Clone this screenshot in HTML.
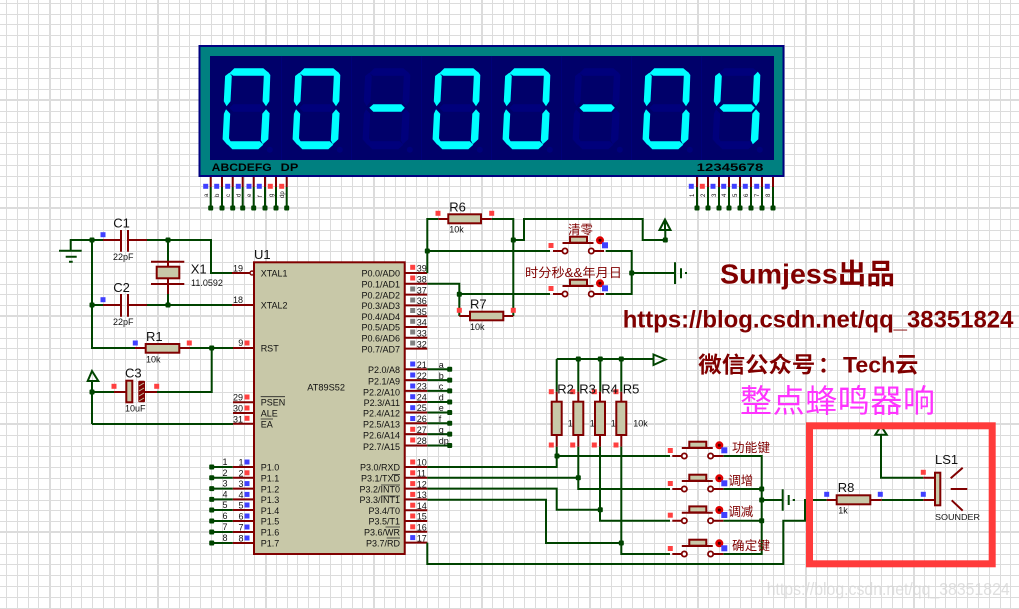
<!DOCTYPE html>
<html><head><meta charset="utf-8"><style>
html,body{margin:0;padding:0;background:#fff}
svg{display:block}
text{font-family:"Liberation Sans","Noto Sans CJK SC",sans-serif;fill:#111}
.w{fill:none;stroke:#004400;stroke-width:2}
.p{fill:none;stroke:#800000;stroke-width:2}
.b{fill:#c8c8a8;stroke:#800000;stroke-width:2}
.t{font-size:9px}
.l{font-size:13px}
.s{font-size:9px}
.c{font-size:12.5px;fill:#800000}
.o{stroke:#222;stroke-width:.8}
</style></head><body>
<svg width="1019" height="609" viewBox="0 0 1019 609" xmlns="http://www.w3.org/2000/svg">
<defs>
<pattern id="grid" width="108" height="108" patternUnits="userSpaceOnUse">
<path d="M6 0h1v108h-1zM17 0h1v108h-1zM28 0h1v108h-1zM38 0h1v108h-1zM49 0h2v108h-2zM60 0h1v108h-1zM71 0h1v108h-1zM81 0h1v108h-1zM92 0h1v108h-1zM103 0h1v108h-1zM0 3h108v1h-108zM0 14h108v1h-108zM0 24h108v1h-108zM0 35h108v1h-108zM0 46h108v1h-108zM0 57h108v1h-108zM0 68h108v1h-108zM0 78h108v1h-108zM0 89h108v1h-108zM0 99h108v2h-108z" fill="#dcdcdc"/>
</pattern>
<polygon id="sa" points="6,5 11,0 40,0 46,5 41,7.5 10,7.5"/>
<polygon id="sb" points="40.5,7.5 44.5,3.5 47,6.7 46,33 42.7,38 39.3,33"/>
<polygon id="sc" points="42.7,41 46.3,45 45,71 39.5,76 37.5,72 39,45.5"/>
<polygon id="sd" points="6.5,73 36.5,73 40,76.5 35,81 9,81 4,76"/>
<polygon id="se" points="2.7,41 6.9,45.5 5.7,70 7.5,73.5 4,76.5 -0.7,71 0.6,45.5"/>
<polygon id="sf" points="6,4.5 8.5,7.7 7.2,33 3.3,38 0.5,33 1.8,7.7"/>
<polygon id="sg" points="10,36 38,36 41.5,39.5 38,43.5 10,43.5 6,39.5"/>
<g id="u" fill="#00007c">
<use href="#sa"/><use href="#sb"/><use href="#sc"/><use href="#sd"/><use href="#se"/><use href="#sf"/><use href="#sg"/><circle cx="46.5" cy="81.5" r="3"/>
</g>
<g id="zero" fill="#00ffff"><use href="#sa"/><use href="#sb"/><use href="#sc"/><use href="#sd"/><use href="#se"/><use href="#sf"/></g>
<g id="four" fill="#00ffff"><use href="#sb"/><use href="#sc"/><use href="#sf"/><use href="#sg"/></g>
<rect id="B" x="-2.5" y="-2.5" width="5" height="5" fill="#4040ff"/>
<rect id="R" x="-2.5" y="-2.5" width="5" height="5" fill="#ff4040"/>
<rect id="G" x="-2.5" y="-2.5" width="5" height="5" fill="#808080"/>
<rect id="j" x="-2.5" y="-2.5" width="5" height="5" rx="1" fill="#004400"/>
<g id="btn">
<rect class="b" x="5" y="-14.3" width="17" height="6"/>
<path class="p" d="M-2.5 -8H28.5"/>
<circle cx="0" cy="0" r="2.6" fill="#fff" stroke="#800000" stroke-width="1.8"/>
<circle cx="26.3" cy="0" r="2.6" fill="#fff" stroke="#800000" stroke-width="1.8"/>
<path class="p" d="M-12 0H-2.6M29 0H39"/>
<circle cx="35" cy="-10.7" r="4" fill="#e00000"/><circle cx="35" cy="-10.7" r="1.5" fill="#400000"/>
<rect x="37" y="-8.7" width="6" height="6" fill="#4040ff"/>
<use href="#R" x="-14" y="-5.5"/>
</g>
</defs>
<rect width="1019" height="609" fill="#fff"/>
<rect width="1019" height="609" fill="url(#grid)"/>

<!-- display -->
<rect x="199.5" y="46" width="584" height="130" fill="#008080" stroke="#000080" stroke-width="2"/>
<rect x="210" y="56" width="564" height="104" fill="#00006a"/>
<path d="M281.5 56V160M351.5 56V160M421.5 56V160M491.5 56V160M561.5 56V160M631.5 56V160M701.5 56V160" stroke="#000078" stroke-width="1"/>
<g transform="translate(223.3,68.3)"><use href="#u"/><use href="#zero"/></g>
<g transform="translate(293.3,68.3)"><use href="#u"/><use href="#zero"/></g>
<g transform="translate(363.3,68.3)"><use href="#u"/><use href="#sg" fill="#00ffff"/></g>
<g transform="translate(433.3,68.3)"><use href="#u"/><use href="#zero"/></g>
<g transform="translate(503.3,68.3)"><use href="#u"/><use href="#zero"/></g>
<g transform="translate(573.3,68.3)"><use href="#u"/><use href="#sg" fill="#00ffff"/></g>
<g transform="translate(643.3,68.3)"><use href="#u"/><use href="#zero"/></g>
<g transform="translate(713.3,68.3)"><use href="#u"/><use href="#four"/></g>
<text x="211.7" y="171" font-size="11" font-weight="bold" textLength="60" lengthAdjust="spacingAndGlyphs" style="fill:#000">ABCDEFG</text>
<text x="280.7" y="171" font-size="11" font-weight="bold" textLength="17.6" lengthAdjust="spacingAndGlyphs" style="fill:#000">DP</text>
<text x="696.7" y="171" font-size="11" font-weight="bold" textLength="66.6" lengthAdjust="spacingAndGlyphs" style="fill:#000">12345678</text>

<!-- display pins -->
<path class="p" d="M210.7 177V187M222 177V187M232.7 177V187M242.7 177V187M253.7 177V187M265 177V187M276 177V187M286.7 177V187M697 177V187M708 177V187M719 177V187M729 177V187M740 177V187M751 177V187M762 177V187M773 177V187"/>
<path class="w" d="M210.7 187V208M222 187V208M232.7 187V208M242.7 187V208M253.7 187V208M265 187V208M276 187V208M286.7 187V208M697 187V208M708 187V208M719 187V208M729 187V208M740 187V208M751 187V208M762 187V208M773 187V208"/>
<g><use href="#j" x="210.7" y="208"/><use href="#j" x="222" y="208"/><use href="#j" x="232.7" y="208"/><use href="#j" x="242.7" y="208"/><use href="#j" x="253.7" y="208"/><use href="#j" x="265" y="208"/><use href="#j" x="276" y="208"/><use href="#j" x="286.7" y="208"/><use href="#j" x="697" y="208"/><use href="#j" x="708" y="208"/><use href="#j" x="719" y="208"/><use href="#j" x="729" y="208"/><use href="#j" x="740" y="208"/><use href="#j" x="751" y="208"/><use href="#j" x="762" y="208"/><use href="#j" x="773" y="208"/></g>
<g><use href="#B" x="205.7" y="186.3"/><use href="#B" x="216.7" y="186.3"/><use href="#B" x="227.7" y="186.3"/><use href="#B" x="238.3" y="186.3"/><use href="#B" x="249" y="186.3"/><use href="#B" x="259.3" y="186.3"/><use href="#R" x="270.3" y="186.3"/><use href="#R" x="281.7" y="186.3"/><use href="#B" x="691.3" y="186.3"/><use href="#R" x="702.3" y="186.3"/><use href="#B" x="713" y="186.3"/><use href="#B" x="723.7" y="186.3"/><use href="#B" x="734.3" y="186.3"/><use href="#B" x="745.3" y="186.3"/><use href="#B" x="756.7" y="186.3"/><use href="#B" x="767.3" y="186.3"/></g>
<g font-size="6">
<text transform="translate(208,197) rotate(-90)">a</text><text transform="translate(219,197) rotate(-90)">b</text><text transform="translate(230,197) rotate(-90)">c</text><text transform="translate(240.5,197) rotate(-90)">d</text><text transform="translate(251,197) rotate(-90)">e</text><text transform="translate(262,197) rotate(-90)">f</text><text transform="translate(273,197) rotate(-90)">g</text><text transform="translate(284,198) rotate(-90)">dp</text>
<text transform="translate(694,197) rotate(-90)">1</text><text transform="translate(705,197) rotate(-90)">2</text><text transform="translate(716,197) rotate(-90)">3</text><text transform="translate(726,197) rotate(-90)">4</text><text transform="translate(737,197) rotate(-90)">5</text><text transform="translate(748,197) rotate(-90)">6</text><text transform="translate(759,197) rotate(-90)">7</text><text transform="translate(770,197) rotate(-90)">8</text>
</g>

<!-- left wires -->
<path class="w" d="M59 250.7H81.7M65.7 256.7H76.7M69 261.7H72.7M70.7 251V240H103M147 240H211V273H232M168 240V262M168 284V305M92 240V348H135M92 305H103M147 305H232M190 348H233M211.7 348V392H157M92 392H114M92 424V381M92 424H233"/>
<polygon class="w" points="92,371 87.7,381 98.3,381"/>
<g><use href="#j" x="92" y="240"/><use href="#j" x="168" y="240"/><use href="#j" x="92" y="305"/><use href="#j" x="168" y="305"/><use href="#j" x="211.7" y="348"/><use href="#j" x="92" y="392"/></g>
<path class="p" d="M103 240H121M121 230V251.7M128 230V251.7M128 240H147M103 305H121M121 294V316.7M128 294V316.7M128 305H147M151 261.7H184.3M168 261.7V266.7M168 278.3V294M151 284H184.3M135 348H146M179 348H190M114 392H126M145 392H157"/>
<rect class="b" x="156.7" y="266.7" width="22.6" height="11.6"/>
<rect class="b" x="145.7" y="344" width="33.6" height="8.7"/>
<rect class="b" x="126.3" y="380.7" width="6" height="21.6"/>
<rect x="138.3" y="380.7" width="6.7" height="21.6" fill="#800000" rx="1"/>
<path d="M139 386l5-3M139 391l5-3M139 396l5-3M139 401l5-3" stroke="#c8c8a8" stroke-width=".8"/>
<g><use href="#B" x="103" y="234.7"/><use href="#B" x="103" y="299.7"/><use href="#B" x="135.3" y="343"/><use href="#R" x="189.3" y="343"/><use href="#R" x="114" y="386.3"/><use href="#R" x="156.7" y="386.3"/></g>
<text class="l" x="113.3" y="227.7">C1</text><text class="s" x="113" y="260">22pF</text>
<text class="l" x="113.3" y="292">C2</text><text class="s" x="113" y="325">22pF</text>
<text class="l" x="190.7" y="273.3">X1</text><text class="s" x="191" y="286">11.0592</text>
<text class="l" x="146" y="341">R1</text><text class="s" x="146" y="362.7">10k</text>
<text class="l" x="125" y="377.7">C3</text><text class="s" x="125" y="411.7">10uF</text>

<!-- U1 -->
<rect x="254" y="262.3" width="150.7" height="291.7" fill="#c8c8a8" stroke="#800000" stroke-width="2"/>
<text class="l" x="254" y="259">U1</text>
<path class="p" d="M232 273H250M232 305H254M233 348H254M233 402.3H254M233 413H254M233 423.7H254M232.7 467H254M232.7 477.8H254M232.7 488.6H254M232.7 499.4H254M232.7 510H254M232.7 521H254M232.7 532H254M232.7 543H254M404.7 273H427.3M404.7 283.8H427.3M404.7 294.6H427.3M404.7 305.4H427.3M404.7 316.2H427.3M404.7 327H427.3M404.7 337.8H427.3M404.7 348.6H427.3M404.7 369.3H427.3M404.7 380.1H427.3M404.7 390.9H427.3M404.7 402H427.3M404.7 412.5H427.3M404.7 423.3H427.3M404.7 434.1H427.3M404.7 445.5H427.3M404.7 467H427.3M404.7 477.8H427.3M404.7 488.6H427.3M404.7 499.4H427.3M404.7 510.2H427.3M404.7 521H427.3M404.7 531.8H427.3M404.7 542.6H427.3"/>
<circle cx="252" cy="273" r="2" fill="none" stroke="#800000" stroke-width="1.4"/>
<path class="w" d="M211.7 467H232.7M211.7 477.8H232.7M211.7 488.6H232.7M211.7 499.4H232.7M211.7 510H232.7M211.7 521H232.7M211.7 532H232.7M211.7 543H232.7M427.3 369.3H449.7M427.3 380.1H449.7M427.3 390.9H449.7M427.3 402H449.7M427.3 412.5H449.7M427.3 423.3H449.7M427.3 434.1H449.7M427.3 445.5H449.7"/>
<g><use href="#j" x="211.7" y="467"/><use href="#j" x="211.7" y="477.8"/><use href="#j" x="211.7" y="488.6"/><use href="#j" x="211.7" y="499.4"/><use href="#j" x="211.7" y="510"/><use href="#j" x="211.7" y="521"/><use href="#j" x="211.7" y="532"/><use href="#j" x="211.7" y="543"/><use href="#j" x="449.7" y="369.3"/><use href="#j" x="449.7" y="380.1"/><use href="#j" x="449.7" y="390.9"/><use href="#j" x="449.7" y="402"/><use href="#j" x="449.7" y="412.5"/><use href="#j" x="449.7" y="423.3"/><use href="#j" x="449.7" y="434.1"/><use href="#j" x="449.7" y="445.5"/></g>
<!-- U1 pin squares -->
<g><use href="#R" x="247" y="343"/><use href="#R" x="247" y="397"/><use href="#R" x="247" y="408"/><use href="#R" x="247" y="418.3"/><use href="#B" x="247" y="462"/><use href="#R" x="247" y="472.8"/><use href="#B" x="247" y="483.6"/><use href="#B" x="247" y="494.4"/><use href="#B" x="247" y="505"/><use href="#B" x="247" y="516"/><use href="#B" x="247" y="527"/><use href="#B" x="247" y="538"/>
<use href="#R" x="412.7" y="267.3"/><use href="#R" x="412.7" y="278"/><use href="#G" x="412.7" y="289"/><use href="#G" x="412.7" y="300"/><use href="#G" x="412.7" y="310.5"/><use href="#G" x="412.7" y="321.3"/><use href="#G" x="412.7" y="332"/><use href="#G" x="412.7" y="343"/>
<use href="#B" x="412.7" y="364"/><use href="#B" x="412.7" y="375"/><use href="#B" x="412.7" y="386"/><use href="#B" x="412.7" y="396.7"/><use href="#B" x="412.7" y="407.7"/><use href="#B" x="412.7" y="418.5"/><use href="#R" x="412.7" y="429.3"/><use href="#R" x="412.7" y="440"/>
<use href="#R" x="412.7" y="462"/><use href="#R" x="412.7" y="472.8"/><use href="#R" x="412.7" y="483.6"/><use href="#R" x="412.7" y="494.4"/><use href="#R" x="412.7" y="505.2"/><use href="#R" x="412.7" y="516"/><use href="#R" x="412.7" y="526.8"/><use href="#B" x="412.7" y="537.6"/></g>
<!-- U1 pin numbers -->
<g>
<text class="s" x="233" y="271.7">19</text><text class="s" x="233" y="303">18</text><text class="s" x="238.3" y="346">9</text><text class="s" x="233" y="400.7">29</text><text class="s" x="233" y="411.3">30</text><text class="s" x="233" y="422.3">31</text>
<text class="s" x="238.5" y="465.5">1</text><text class="s" x="238.5" y="476.3">2</text><text class="s" x="238.5" y="487">3</text><text class="s" x="238.5" y="498">4</text><text class="s" x="238.5" y="508.5">5</text><text class="s" x="238.5" y="519.5">6</text><text class="s" x="238.5" y="530.5">7</text><text class="s" x="238.5" y="541.5">8</text>
<text class="s" x="222.5" y="465">1</text><text class="s" x="222.5" y="475.8">2</text><text class="s" x="222.5" y="486.6">3</text><text class="s" x="222.5" y="497.4">4</text><text class="s" x="222.5" y="508">5</text><text class="s" x="222.5" y="519">6</text><text class="s" x="222.5" y="530">7</text><text class="s" x="222.5" y="541">8</text>
<text class="s" x="416.7" y="271.7">39</text><text class="s" x="416.7" y="282.5">38</text><text class="s" x="416.7" y="293.3">37</text><text class="s" x="416.7" y="304">36</text><text class="s" x="416.7" y="315">35</text><text class="s" x="416.7" y="325.7">34</text><text class="s" x="416.7" y="336.5">33</text><text class="s" x="416.7" y="347.3">32</text>
<text class="s" x="416.7" y="368">21</text><text class="s" x="416.7" y="378.8">22</text><text class="s" x="416.7" y="389.6">23</text><text class="s" x="416.7" y="400.7">24</text><text class="s" x="416.7" y="411.2">25</text><text class="s" x="416.7" y="422">26</text><text class="s" x="416.7" y="432.8">27</text><text class="s" x="416.7" y="444.2">28</text>
<text class="s" x="416.7" y="465.7">10</text><text class="s" x="416.7" y="476.5">11</text><text class="s" x="416.7" y="487.3">12</text><text class="s" x="416.7" y="498.1">13</text><text class="s" x="416.7" y="508.9">14</text><text class="s" x="416.7" y="519.7">15</text><text class="s" x="416.7" y="530.5">16</text><text class="s" x="416.7" y="541.3">17</text>
<text class="s" x="438.7" y="368">a</text><text class="s" x="438.7" y="378.8">b</text><text class="s" x="438.7" y="389.6">c</text><text class="s" x="438.7" y="400.7">d</text><text class="s" x="438.7" y="411.2">e</text><text class="s" x="438.7" y="422">f</text><text class="s" x="438.7" y="432.8">g</text><text class="s" x="438.7" y="444.2">dp</text>
</g>
<!-- U1 labels -->
<g>
<text class="t" x="260.7" y="276.7">XTAL1</text><text class="t" x="260.7" y="308.7">XTAL2</text><text class="t" x="260.7" y="351.7">RST</text><text class="t" x="260.7" y="405.7">PSEN</text><text class="t" x="260.7" y="416.7">ALE</text><text class="t" x="260.7" y="427.3">EA</text>
<text class="t" x="260.7" y="470.7">P1.0</text><text class="t" x="260.7" y="481.5">P1.1</text><text class="t" x="260.7" y="492.3">P1.2</text><text class="t" x="260.7" y="503.1">P1.3</text><text class="t" x="260.7" y="513.9">P1.4</text><text class="t" x="260.7" y="524.7">P1.5</text><text class="t" x="260.7" y="535.5">P1.6</text><text class="t" x="260.7" y="546.3">P1.7</text>
<text class="t" x="307.3" y="390.7" textLength="37.7" lengthAdjust="spacingAndGlyphs">AT89S52</text>
</g>
<g text-anchor="end">
<text class="t" x="400" y="276.7">P0.0/AD0</text><text class="t" x="400" y="287.5">P0.1/AD1</text><text class="t" x="400" y="298.3">P0.2/AD2</text><text class="t" x="400" y="309.1">P0.3/AD3</text><text class="t" x="400" y="319.9">P0.4/AD4</text><text class="t" x="400" y="330.7">P0.5/AD5</text><text class="t" x="400" y="341.5">P0.6/AD6</text><text class="t" x="400" y="352.3">P0.7/AD7</text>
<text class="t" x="400" y="373">P2.0/A8</text><text class="t" x="400" y="384.5">P2.1/A9</text><text class="t" x="400" y="395.3">P2.2/A10</text><text class="t" x="400" y="406">P2.3/A11</text><text class="t" x="400" y="416.7">P2.4/A12</text><text class="t" x="400" y="427.3">P2.5/A13</text><text class="t" x="400" y="438.3">P2.6/A14</text><text class="t" x="400" y="450">P2.7/A15</text>
<text class="t" x="400" y="470.7">P3.0/RXD</text><text class="t" x="400" y="481.5">P3.1/TXD</text><text class="t" x="400" y="492.3">P3.2/INT0</text><text class="t" x="400" y="503.1">P3.3/INT1</text><text class="t" x="400" y="513.9">P3.4/T0</text><text class="t" x="400" y="524.7">P3.5/T1</text><text class="t" x="400" y="535.5">P3.6/WR</text><text class="t" x="400" y="546.3">P3.7/RD</text>
</g>
<path class="o" d="M260.7 396.7H285M260.7 419H273M392 474.5H400M381 485H400M381 496H400M385.5 527H400M386.7 538H400"/>

<!-- top right wires -->
<path class="w" d="M427.3 273V219H438.3M491.7 219H513.3V316M427.3 251H550M427.3 283.8H459.3V294M459.3 294H550M459.3 294V316M513.3 240H524V219H642.7V240H665.3V230M605.7 251H631.7V294H605.7M631.7 273H675M675 262.3V284M681 268.3V278.3M685 273H687"/>
<polygon class="w" points="665,219.5 659.5,230 670.5,230"/>
<path class="w" d="M665 221V230"/>
<g><use href="#j" x="427.3" y="251"/><use href="#j" x="459.3" y="294.3"/><use href="#j" x="513.3" y="240"/><use href="#j" x="631.7" y="273"/><use href="#j" x="665.3" y="240"/></g>
<path class="p" d="M438.3 219H448.3M481 219H491.7M459.3 316H470M503.3 316H513.3"/>
<rect class="b" x="448.3" y="214.3" width="32.7" height="9"/>
<rect class="b" x="470" y="311.7" width="33.3" height="8.6"/>
<g><use href="#R" x="438" y="213.3"/><use href="#R" x="491.7" y="213.3"/><use href="#R" x="459.3" y="310.3"/><use href="#R" x="513.3" y="310.3"/></g>
<text class="l" x="449.3" y="211.7">R6</text><text class="s" x="449.3" y="232.7">10k</text>
<text class="l" x="470" y="308.3">R7</text><text class="s" x="470" y="330">10k</text>
<use href="#btn" x="565" y="251"/>
<use href="#btn" x="565" y="294"/>
<text class="c" x="568" y="234" textLength="25" lengthAdjust="spacingAndGlyphs">清零</text>
<text class="c" x="525" y="277" textLength="97" lengthAdjust="spacingAndGlyphs">时分秒&amp;&amp;年月日</text>

<!-- resistor bank wires -->
<path class="w" d="M556.7 359H653.3M578.3 359V391.7M600.3 359V391.7M621.3 359V391.7M556.7 359V391.7"/>
<polygon class="w" points="653.5,354.5 665.5,359.5 653.5,365" fill="#fff"/>
<g><use href="#j" x="578.3" y="359"/><use href="#j" x="600.3" y="359"/><use href="#j" x="621.3" y="359"/></g>
<path class="p" d="M556.7 391.7V401.7M578.3 391.7V401.7M600 391.7V401.7M621.3 391.7V401.7M556.7 435V446.7M578.3 435V446.7M600 435V446.7M621.3 435V446.7"/>
<rect class="b" x="551.7" y="401.7" width="10" height="33.3"/>
<rect class="b" x="573.3" y="401.7" width="10" height="33.3"/>
<rect class="b" x="595" y="401.7" width="10" height="33.3"/>
<rect class="b" x="616.3" y="401.7" width="10" height="33.3"/>
<g><use href="#R" x="551.3" y="391.7"/><use href="#R" x="572.7" y="391.7"/><use href="#R" x="594.3" y="391.7"/><use href="#R" x="616" y="391.7"/><use href="#R" x="551.3" y="445"/><use href="#R" x="572.7" y="445"/><use href="#R" x="594.3" y="445"/><use href="#R" x="616" y="445"/></g>
<text class="l" x="557.3" y="393.3">R2</text><text class="l" x="579.3" y="393.3">R3</text><text class="l" x="601.3" y="393.3">R4</text><text class="l" x="622.7" y="393.3">R5</text>
<text class="s" x="567.7" y="426.7">1</text><text class="s" x="589.7" y="426.7">1</text><text class="s" x="610.7" y="426.7">1</text><text class="s" x="633.3" y="426.7">10k</text>
<path class="w" d="M427.3 467H556.7V446.7M556.7 456H670M427.3 477.8H578.3M578.3 446.7V489H670M427.3 488.6H556.7V509.7H600M600 446.7V520.7H670M427.3 499.7H546V543H621.3M621.3 446.7V554H670M427.3 542.6V564H783.3V520.7H805V500H826.7M723.3 456H761.7V554H723.3M723.3 489H761.7M723.3 520.7H761.7M761.7 500H782.7M782.7 489.3V510.7M788.7 495V505M792.7 500H795"/>
<g><use href="#j" x="557" y="456"/><use href="#j" x="578.3" y="477.8"/><use href="#j" x="600.3" y="509.7"/><use href="#j" x="621.3" y="543"/><use href="#j" x="761.7" y="489"/><use href="#j" x="761.7" y="500"/><use href="#j" x="761.7" y="520.7"/></g>
<use href="#btn" x="684.3" y="456"/>
<use href="#btn" x="684.3" y="489"/>
<use href="#btn" x="684.3" y="520.7"/>
<use href="#btn" x="684.3" y="554"/>
<text class="c" x="732" y="452" textLength="38" lengthAdjust="spacing">功能键</text>
<text class="c" x="728.3" y="485">调增</text>
<text class="c" x="728.3" y="516">调减</text>
<text class="c" x="732" y="550" textLength="38" lengthAdjust="spacing">确定键</text>

<!-- sounder -->
<path class="w" d="M881.7 500H923.3M923.3 477.7H881V435"/>
<polygon class="w" points="881,426 875.3,434.7 886.7,434.7"/>
<path class="p" d="M826.7 500H836.7M870.3 500H881.7M923.3 500H935M923.3 477.7H935M950.7 478.3L962.7 467.7M950.7 489H967.3M951.7 500.3L962.7 510.7"/>
<rect class="b" x="836.7" y="495.3" width="33.6" height="9"/>
<rect class="b" x="935" y="472.7" width="5.3" height="32.6"/>
<g><use href="#B" x="826.7" y="494.3"/><use href="#B" x="880.3" y="494.3"/><use href="#B" x="923.3" y="494.3"/><use href="#R" x="923.3" y="472.3"/></g>
<text class="l" x="935" y="464">LS1</text>
<text x="935" y="520" font-size="8.5" textLength="45" lengthAdjust="spacingAndGlyphs">SOUNDER</text>
<text class="l" x="837.7" y="492">R8</text>
<text class="t" x="838.3" y="513.7">1k</text>
<rect x="809.5" y="425.8" width="182.7" height="138" fill="none" stroke="#ff3b3b" stroke-width="7"/>

<!-- captions -->
<text x="720" y="283.3" font-size="28" font-weight="bold" textLength="175" lengthAdjust="spacingAndGlyphs" style="fill:#800000">Sumjess出品</text>
<text x="622.7" y="327.3" font-size="24" font-weight="bold" textLength="390.7" lengthAdjust="spacingAndGlyphs" style="fill:#800000">https://blog.csdn.net/qq_38351824</text>
<text x="698.3" y="372.7" font-size="22" font-weight="bold" textLength="117" lengthAdjust="spacingAndGlyphs" style="fill:#800000">微信公众号</text>
<text x="818" y="372.7" font-size="22" font-weight="bold" style="fill:#800000">：</text>
<text x="843" y="372.7" font-size="22" font-weight="bold" textLength="75.3" lengthAdjust="spacingAndGlyphs" style="fill:#800000">Tech云</text>
<text x="740" y="412" font-size="32" textLength="195" lengthAdjust="spacing" style="fill:#ff33ff;font-family:'Noto Sans CJK SC',sans-serif;font-weight:400">整点蜂鸣器响</text>
<text x="766.7" y="595" font-size="17.5" textLength="243" lengthAdjust="spacingAndGlyphs" style="fill:#d4d4d4;fill-opacity:.75">https://blog.csdn.net/qq_38351824</text>
</svg>
</body></html>
